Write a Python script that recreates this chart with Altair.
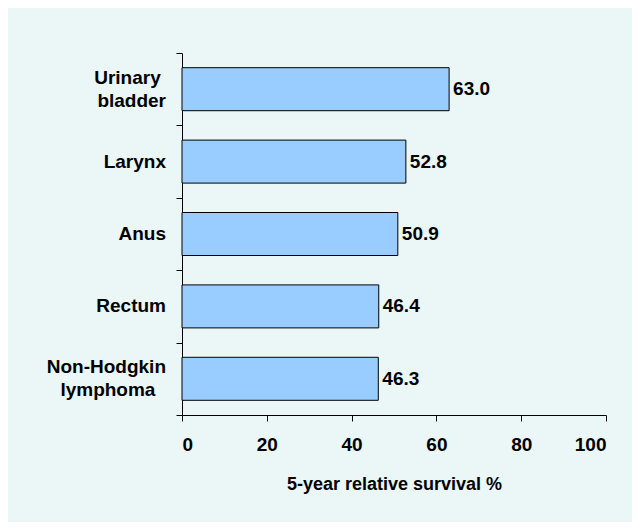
import altair as alt
import pandas as pd

categories = ["Urinary bladder", "Larynx", "Anus", "Rectum", "Non-Hodgkin lymphoma"]
site_labels = ["Urinary\u00a0\u2060\nbladder", "Larynx", "Anus", "Rectum",
               "Non-Hodgkin\nlymphoma\u00a0\u00a0\u2060"]
line_counts = [2, 1, 1, 1, 2]
survival = [63.0, 52.8, 50.9, 46.4, 46.3]
x_ticks = [0, 20, 40, 60, 80, 100]

df = pd.DataFrame({"site": categories, "label": site_labels,
                   "lines": line_counts, "value": survival})

FONT = "Liberation Sans"
BG = "#EBF6F6"

y_enc = alt.Y(
    "site:N",
    sort=categories,
    scale=alt.Scale(paddingInner=0, paddingOuter=0),
    axis=alt.Axis(
        title=None,
        labels=False,
        tickBand="extent",
        tickSize=6,
        tickColor="black",
        domainColor="black",
    ),
)

x_enc = alt.X(
    "value:Q",
    scale=alt.Scale(domain=[0, 100]),
    axis=alt.Axis(
        title="5-year relative survival %",
        values=x_ticks,
        grid=False,
        tickSize=6,
        tickColor="black",
        domainColor="black",
        labelPadding=14,
        labelFont=FONT,
        labelFontSize=19,
        labelFontWeight="bold",
        labelColor="black",
        titleFont=FONT,
        titleFontSize=18,
        titleFontWeight="bold",
        titleColor="black",
        titlePadding=21,
    ),
)

base = alt.Chart(df)

bars = base.mark_bar(
    fill="#99CCFF", stroke="black", strokeWidth=1, size=43,
).encode(x=x_enc, y=y_enc)

values = base.mark_text(
    align="left", baseline="middle", dx=4,
    font=FONT, fontSize=19, fontWeight="bold", color="black"
).encode(
    x="value:Q",
    y=alt.Y("site:N", sort=categories),
    text=alt.Text("value:Q", format=".1f"),
)

label_style = dict(align="right", baseline="middle", font=FONT, fontSize=19,
                   fontWeight="bold", color="black", lineBreak="\n", lineHeight=23)

one_line = base.transform_filter("datum.lines == 1").mark_text(**label_style).encode(
    x=alt.value(-16),
    y=alt.Y("site:N", sort=categories),
    text="label:N",
)

two_line = base.transform_filter("datum.lines == 2").mark_text(dy=-11.5, **label_style).encode(
    x=alt.value(-16),
    y=alt.Y("site:N", sort=categories),
    text="label:N",
)

chart = (
    alt.layer(bars, values, one_line, two_line)
    .properties(
        width=424,
        height=362,
        background=BG,
        padding={"left": 174, "top": 45, "right": 26, "bottom": 107},
        autosize=alt.AutoSizeParams(type="none"),
    )
    .configure_view(stroke=None)
)

chart.save("out.html", embed_options={"renderer": "svg", "actions": False})
